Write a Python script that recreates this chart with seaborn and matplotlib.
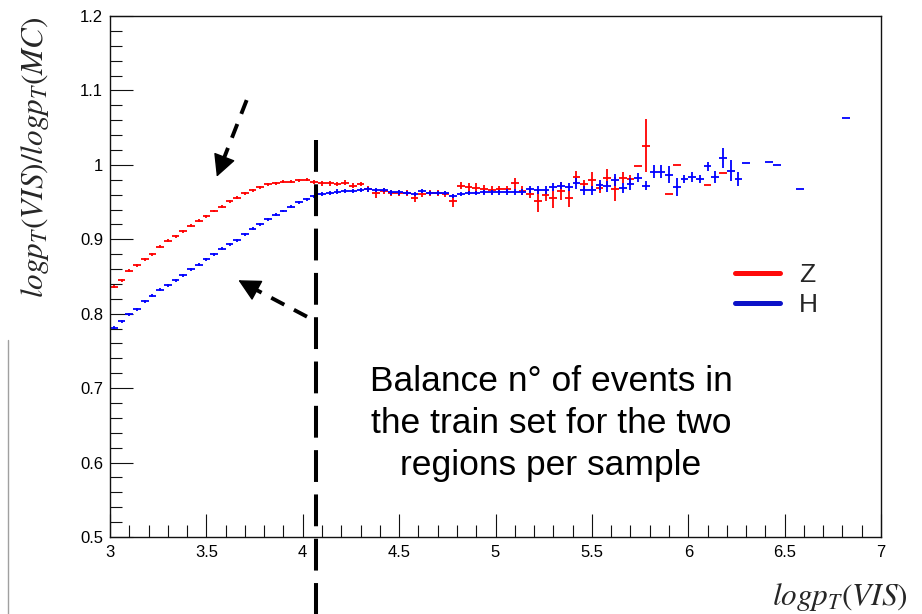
import numpy as np
import pandas as pd
import matplotlib
matplotlib.use("Agg")
import matplotlib.pyplot as plt
from matplotlib.lines import Line2D
from matplotlib.ticker import MultipleLocator, FixedLocator, FixedFormatter
import seaborn as sns

# ---------------- data (profile bins, 100 bins from 3 to 7) ----------------
bin_edges = np.linspace(3.0, 7.0, 101)
N = None
z_mean = [0.836, 0.845, 0.858, 0.865, 0.873, 0.880, 0.890, 0.898, 0.904, 0.911,
          0.918, 0.925, 0.931, 0.938, 0.944, 0.951, 0.956, 0.962, 0.966, 0.970,
          0.974, 0.975, 0.977, 0.977, 0.979, 0.980, 0.977, 0.975, 0.975, 0.974,
          0.976, 0.972, 0.974, 0.967, 0.962, 0.965, 0.962, 0.962, 0.962, 0.956,
          0.961, 0.962, 0.962, 0.961, 0.951, 0.972, 0.970, 0.969, 0.967, 0.966,
          0.967, 0.967, 0.975, 0.965, 0.961, 0.951, 0.960, 0.955, 0.965, 0.955,
          0.984, 0.974, 0.979, 0.969, 0.983, 0.968, 0.983, 0.981, 0.998, 1.026,
          N, N, 0.961, 1.000, N, N, N, 0.973, N, 0.989,
          N, N, N, N, N, N, N, N, N, N,
          N, N, N, N, N, N, N, N, N, N]
z_err = [0.002] * 26 + [0.003] * 7 + \
        [0.004, 0.006, 0.004, 0.004, 0.004, 0.004, 0.006, 0.004, 0.004, 0.004,
         0.004, 0.008, 0.005, 0.006, 0.006, 0.006, 0.005, 0.005, 0.005, 0.007,
         0.006, 0.006, 0.015, 0.008, 0.013, 0.012, 0.011, 0.008, 0.006, 0.012,
         0.007, 0.012, 0.016, 0.007, 0.006, 0.000, 0.035] + [0.0] * 30

h_mean = [0.781, 0.790, 0.799, 0.806, 0.817, 0.824, 0.832, 0.838, 0.845, 0.852,
          0.860, 0.866, 0.873, 0.880, 0.887, 0.893, 0.899, 0.907, 0.914, 0.920,
          0.927, 0.933, 0.938, 0.944, 0.950, 0.954, 0.958, 0.961, 0.962, 0.964,
          0.965, 0.965, 0.966, 0.967, 0.966, 0.966, 0.963, 0.963, 0.962, 0.961,
          0.965, 0.962, 0.962, 0.962, 0.958, 0.961, 0.962, 0.962, 0.963, 0.963,
          0.963, 0.964, 0.963, 0.963, 0.967, 0.966, 0.966, 0.970, 0.972, 0.970,
          0.975, 0.966, 0.966, 0.973, 0.971, 0.980, 0.969, 0.974, 0.983, 0.972,
          0.991, 0.991, 0.987, 0.970, 0.981, 0.984, 0.981, 0.998, 0.984, 1.009,
          0.992, 0.981, 1.002, N, N, 1.004, 1.000, N, N, 0.967,
          N, N, N, N, N, 1.063, N, N, N, N]
h_err = [0.002] * 27 + [0.003] * 24 + \
        [0.004, 0.004, 0.004, 0.005, 0.005, 0.005, 0.005, 0.005, 0.005,
         0.007, 0.006, 0.006, 0.007, 0.007, 0.008, 0.007, 0.008, 0.006, 0.006,
         0.009, 0.009, 0.011, 0.012, 0.006, 0.007, 0.005, 0.006, 0.008, 0.013,
         0.014, 0.009] + [0.0] * 18

samples = ["Z", "H"]
sample_colors = {"Z": "#ff0000", "H": "#0000ff"}
legend_colors = {"Z": "#ff0a0a", "H": "#0c12c8"}

x_ticks = [3, 3.5, 4, 4.5, 5, 5.5, 6, 6.5, 7]
x_ticklabels = ["3", "3.5", "4", "4.5", "5", "5.5", "6", "6.5", "7"]
y_ticks = [0.5, 0.6, 0.7, 0.8, 0.9, 1.0, 1.1, 1.2]
y_ticklabels = ["0.5", "0.6", "0.7", "0.8", "0.9", "1", "1.1", "1.2"]

split_x = 4.07
note_text = "Balance n° of events in\nthe train set for the two\nregions per sample"

# ---------------- table ----------------
centers = 0.5 * (bin_edges[:-1] + bin_edges[1:])
half_w = 0.5 * np.diff(bin_edges)
frames = []
for name, m, e in [("Z", z_mean, z_err), ("H", h_mean, h_err)]:
    d = pd.DataFrame({"x": centers, "xerr": half_w,
                      "y": pd.to_numeric(pd.Series(m), errors="coerce"),
                      "yerr": e, "sample": name})
    frames.append(d.dropna(subset=["y"]))
df = pd.concat(frames, ignore_index=True)

# ---------------- style ----------------
sns.set_theme(style="white")
plt.rcParams["font.family"] = ["Liberation Sans", "DejaVu Sans"]
plt.rcParams["mathtext.fontset"] = "stix"

W, H = 922, 614
g = sns.FacetGrid(df, hue="sample", hue_order=samples, palette=sample_colors,
                  height=6.14, aspect=W / H, despine=False)
g.map_dataframe(plt.errorbar, x="x", y="y", xerr="xerr", yerr="yerr",
                fmt="none", elinewidth=1.3, capsize=0)
fig = g.figure
fig.set_size_inches(W / 100, H / 100)
fig.set_dpi(100)
fig.patch.set_facecolor("white")
ax = g.ax
g.set_axis_labels("", "")
ax.set_position([110 / W, 1 - 537 / H, 771 / W, 521 / H])

ax.set_xlim(3, 7)
ax.set_ylim(0.5, 1.2)
ax.xaxis.set_major_locator(FixedLocator(x_ticks))
ax.xaxis.set_major_formatter(FixedFormatter(x_ticklabels))
ax.yaxis.set_major_locator(FixedLocator(y_ticks))
ax.yaxis.set_major_formatter(FixedFormatter(y_ticklabels))
ax.xaxis.set_minor_locator(MultipleLocator(0.1))
ax.yaxis.set_minor_locator(MultipleLocator(0.02))
ax.tick_params(which="both", direction="in", color="#111111", width=0.8,
               top=False, right=False, left=True, bottom=True,
               labelsize=12, labelcolor="black")
ax.tick_params(which="major", length=16.5)
ax.tick_params(which="minor", length=8.5)
ax.tick_params(axis="y", which="major", pad=5)
ax.tick_params(axis="x", which="major", pad=6)
for s in ax.spines.values():
    s.set_visible(True)
    s.set_color("#111111")
    s.set_linewidth(1.0)
ax.grid(False)

# dashed vertical separator (extends beyond the frame)
ax.plot([split_x, split_x], [1.034, 0.39], color="black", lw=2.9,
        dashes=(7.9, 3.1), clip_on=False, zorder=5)

# dashed arrows: dashed shaft + solid head
arrows = [((3.709, 1.087), (3.580, 1.0015), (3.554, 0.984)),
          ((4.022, 0.796), (3.730, 0.836), (3.666, 0.845))]
for tail, base, tip in arrows:
    ax.annotate("", xy=base, xytext=tail,
                arrowprops=dict(arrowstyle="-", color="black", lw=2.8,
                                linestyle=(0, (3.8, 2.8)), shrinkA=0,
                                shrinkB=0, capstyle="butt"),
                annotation_clip=False)
    ax.annotate("", xy=tip, xytext=base,
                arrowprops=dict(arrowstyle="-|>,head_length=0.7,head_width=0.36",
                                color="black", lw=1.0, mutation_scale=20,
                                shrinkA=0, shrinkB=0),
                annotation_clip=False)

# note text
ax.text(0.572, 0.218, note_text, transform=ax.transAxes, ha="center",
        va="center", fontsize=25.5, linespacing=1.34, color="black")

# legend
handles = [Line2D([], [], color=legend_colors[s], lw=3.6) for s in samples]
ax.legend(handles, samples, frameon=False, fontsize=19, handlelength=1.7,
          handletextpad=0.72, labelspacing=0.2, borderpad=0,
          borderaxespad=0, loc="upper left", bbox_to_anchor=(0.8106, 0.525))

# axis titles
fig.text(35 / W, 1 - 157 / H, r"$logp_T(VIS)/logp_T(MC)$", rotation=90,
         ha="center", va="center", fontsize=22.5)
fig.text(908 / W, 1 - 597 / H, r"$logp_T(VIS)$", ha="right", va="center",
         fontsize=22.5)

# slide edge artefact
fig.add_artist(Line2D([8 / W, 8 / W], [0, 1 - 340 / H], color="#a0a0a0",
                      lw=1.0, transform=fig.transFigure))

fig.savefig("out.png", dpi=100)
